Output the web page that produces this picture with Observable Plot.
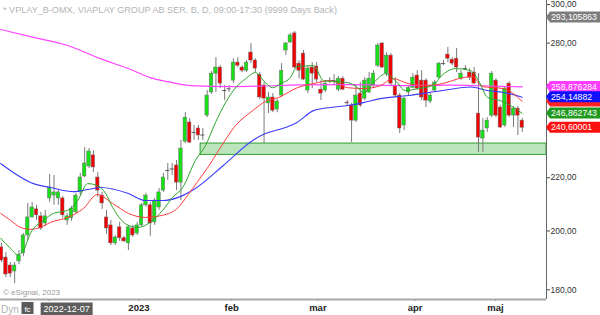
<!DOCTYPE html>
<html><head><meta charset="utf-8">
<script src="https://cdn.jsdelivr.net/npm/d3@7"></script>
<script src="https://cdn.jsdelivr.net/npm/@observablehq/plot@0.6"></script>
<style>body{margin:0;background:#fff;} svg{display:block}</style>
</head><body><div id="chart"></div>
<script>
// ---- Data (daily bars, index 0 = first visible bar, mid Nov 2022) ----
const open = [
194.2,190.7,188.0,186.0,189.4,192.1,198.4,204.9,207.9,205.3,
202.7,212.0,213.1,212.0,212.0,203.8,204.6,206.8,214.3,220.5,
224.5,229.0,220.1,213.1,204.9,202.0,195.6,201.3,197.4,195.6,
200.9,199.1,202.0,209.4,209.4,203.1,208.6,215.0,222.9,223.5,
224.9,218.1,234.7,242.9,238.6,240.3,237.5,245.9,256.3,265.1,
268.0,257.2,258.0,261.8,270.4,268.0,266.5,275.3,271.4,264.6,
259.5,251.3,254.0,248.6,254.9,276.3,280.3,284.9,269.9,274.8,
257.2,268.0,268.5,257.6,257.2,261.8,261.8,257.6,262.7,251.7,
250.4,243.7,255.8,253.5,256.3,259.5,268.9,279.8,265.1,273.8,
259.5,254.9,241.6,256.3,258.5,264.2,261.8,261.8,252.2,257.2,
263.2,269.9,274.3,271.8,272.3,262.7,267.5,265.6,265.6,246.8,
236.0,240.3,245.9,261.8,249.5,241.6,260.4,245.9,249.0,243.7];
const high = [
195.6,192.4,189.0,189.0,193.1,199.1,210.1,210.5,209.4,206.8,
207.5,221.3,220.9,215.0,212.7,206.4,209.0,213.9,221.7,232.2,
231.8,231.0,222.1,214.3,207.5,203.8,198.4,203.1,198.1,202.0,
202.0,203.1,210.1,213.9,210.5,212.0,215.8,221.7,225.7,225.7,
226.9,235.2,247.2,244.6,241.6,241.6,240.3,257.2,266.1,272.8,
268.9,259.5,259.5,272.3,272.8,268.9,271.4,279.8,272.3,265.6,
260.9,256.3,255.8,253.1,269.9,280.3,284.9,285.9,271.4,276.3,
268.5,270.4,270.4,261.8,261.8,263.2,264.6,263.7,263.7,252.6,
251.3,259.5,260.9,263.2,265.6,266.5,279.8,280.3,275.3,274.8,
263.2,255.8,254.0,259.5,265.1,266.5,266.5,262.7,255.8,261.8,
270.4,271.4,277.8,272.8,277.3,266.5,268.9,267.5,268.0,265.1,
244.6,245.0,266.1,262.7,250.4,259.0,261.3,249.9,249.9,244.6];
const low = [
189.0,184.0,184.0,182.0,188.3,191.0,196.6,204.6,203.8,200.2,
201.6,210.5,209.4,209.4,204.6,202.0,203.5,206.0,213.1,220.1,
223.7,222.1,212.4,207.9,198.8,194.9,194.9,196.3,195.9,193.1,
197.7,198.4,201.6,208.6,198.1,202.0,207.5,214.3,218.9,220.9,
215.0,211.2,233.9,233.9,235.2,235.2,235.2,245.0,255.4,256.3,
258.1,252.6,256.3,260.4,268.0,265.6,265.6,269.9,265.6,253.1,
233.9,246.8,247.2,247.2,254.0,273.8,279.8,267.5,262.7,261.8,
255.8,258.1,260.9,252.6,256.3,260.4,259.9,256.7,257.2,250.4,
234.3,242.9,249.5,252.6,255.8,258.1,268.0,267.5,263.7,259.5,
254.0,238.1,239.4,254.9,258.1,257.2,252.6,249.5,251.3,256.3,
262.7,268.9,270.4,268.9,265.6,261.8,266.5,261.8,259.9,230.2,
230.2,238.6,245.0,245.0,240.3,240.7,245.0,240.7,237.3,238.6];
const close = [
189.7,185.0,185.3,188.0,191.4,198.4,204.9,208.6,205.7,200.9,
205.3,216.2,214.3,214.3,205.7,205.3,208.2,213.1,220.1,225.7,
230.6,224.1,215.0,210.1,200.9,195.6,197.7,197.4,196.3,201.3,
198.4,202.0,209.4,213.1,202.7,211.2,214.3,220.1,222.9,223.5,
218.1,231.8,245.0,234.3,238.6,237.3,237.5,254.9,265.1,268.0,
260.4,257.2,258.0,270.4,268.9,266.5,270.4,271.4,267.5,254.0,
253.5,254.0,248.1,252.2,266.5,279.8,283.9,268.0,266.5,262.3,
267.5,265.1,262.3,255.8,260.4,261.8,261.8,262.7,257.6,251.3,
243.7,254.9,250.4,261.8,262.7,265.1,278.8,268.0,273.8,260.4,
254.9,240.3,253.5,258.5,263.2,258.1,254.0,252.6,254.9,260.9,
269.9,269.9,272.3,269.9,268.0,265.1,267.5,263.2,260.4,236.4,
239.4,243.7,265.1,245.9,240.7,258.1,245.9,249.0,245.9,240.6];

// Moving averages (bar index, value)
const greenK = [-0.2,2.1,3.7,5.0,6.6,9.6,11.9,15.1,17.4,19.7,21.9,23.8,25.4,29.0,31.3,34.5,36.8,39.1,41.4,44.3,46.6,48.9,51.2,53.5,55.8,58.0,60.3,61.9,63.8,66.0,67.6,71.3,73.6,79.1,81.4,82.7,85.5,87.8,90.0,92.3,95.3,98.5,100.8,103.8,107.2,109.0,111.1,114.0,116.3,119];
const greenV = [197.4,193.8,191.7,193.1,199.1,203.8,206.4,207.5,211.2,217.7,216.9,213.9,208.6,202.0,201.3,203.8,207.5,212.4,216.2,226.9,233.0,242.9,251.7,258.5,262.7,265.6,260.9,258.5,260.4,263.2,268.5,268.9,261.8,260.9,258.5,256.3,261.8,265.1,261.8,257.2,258.1,259.5,264.6,267.5,266.5,261.8,254.0,252.6,250.4,246.86];
const redK = [-0.2,2.1,4.3,6.6,8.9,11.2,15.1,18.7,21.9,25.4,29.0,32.9,36.8,40.4,42.5,44.8,47.3,49.6,53.5,57.4,60.3,63.3,67.6,71.3,75.2,79.1,82.7,86.6,89.4,93.0,96.9,100.8,104.4,107.6,109.9,114.7,119];
const redV = [206.4,203.8,201.3,200.6,201.3,203.1,204.9,208.2,213.5,210.1,206.4,204.9,205.7,208.6,213.1,218.5,224.5,231.0,241.6,248.1,252.2,254.0,258.5,260.4,261.8,258.5,258.1,259.5,262.7,260.4,259.5,260.4,262.7,263.7,259.0,258.1,252.2];
const blueK = [-0.2,7.3,11.2,16.5,19.7,22.6,29.0,32.9,36.8,40.4,44.3,50.7,57.4,60.3,64.9,67.6,71.3,75.2,79.1,82.7,86.6,93.0,100.8,107.2,111.1,114.7,119];
const blueV = [225.7,217.7,216.2,214.6,215.4,216.2,213.9,211.2,211.2,212.4,215.8,224.9,235.2,238.1,240.7,243.0,248.1,249.5,250.4,251.7,253.5,254.9,257.2,258.8,257.2,256.3,254.15];
const magK = [-0.2,7.3,15.1,22.6,30.2,34.0,37.9,43.2,53.0,60.0,68.3,79.8,91.2,102.6,110.0,119];
const magV = [286.9,282.9,278.8,272.3,266.5,263.2,261.3,259.5,259.0,259.3,259.8,259.9,259.5,259.7,259.4,258.88];

// Support zone
const zoneStartK = [45.5];
const zoneLow = [229.2];
const zoneHigh = [233.9];

// Axis ticks / labels (labels hidden by value tags / cursor box are left blank)
const yTicks = [180, 200, 220, 240, 260, 280, 300];
const yHiddenTicks = [240, 260];
const monthTickK = [10.8, 31.4, 52.6, 72.3, 94.5, 112.9];
const monthLabels = ["", "2023", "feb", "mar", "apr", "maj"];
const cursorK = 15;
const cursorLabel = "2022-12-07";

// Right-edge value tags (the red MA tag sits under the blue one, text hidden)
const tagValues = [293.105863, 258.876284, 252.2, 254.14882, 246.862743, 240.60001];
const tagTexts = ["293,105863", "258,876284", "", "254,14882", "246,862743", "240,60001"];
const tagColors = ["#7d7d7d", "#ff3cff", "#ff2020", "#1010ff", "#1f9a1f", "#ff1010"];

const titleText = "* VPLAY_B-OMX, VIAPLAY GROUP AB SER. B, D, 09:00-17:30 (9999 Days Back)";

// ---- Build ----
const candles = open.map((o, i) => ({k: i, open: o, high: high[i], low: low[i], close: close[i]}));
const bodies = candles.filter(d => d.open !== d.close);
const dojis = candles.filter(d => d.open === d.close);
const series = (K, V) => K.map((k, i) => ({k, v: V[i]}));
const xDomain = [-0.2285, 124.54];
const yDomain = [176.9, 302.2];
const zone = [{k1: zoneStartK[0], k2: xDomain[1], lo: zoneLow[0], hi: zoneHigh[0]}];
const monthMap = new Map(monthTickK.map((k, i) => [k, monthLabels[i]]));
const FONT = "'Liberation Sans', Arial, sans-serif";

const plot = Plot.plot({
  width: 600, height: 315,
  marginLeft: 0, marginRight: 54, marginTop: 0, marginBottom: 16,
  style: {fontFamily: FONT, background: "#fff", color: "#333", overflow: "visible"},
  x: {type: "linear", domain: xDomain},
  y: {type: "log", domain: yDomain},
  marks: [
    Plot.rect(zone, {x1: "k1", x2: "k2", y1: "lo", y2: "hi", fill: "#bde5bd", stroke: "#2f9e2f", strokeWidth: 1}),
    Plot.ruleX(candles, {x: "k", y1: "low", y2: "high", stroke: "#7a7a7a", strokeWidth: 1}),
    Plot.rect(bodies, {x1: d => d.k - 0.4, x2: d => d.k + 0.4, y1: "open", y2: "close",
      fill: d => d.close > d.open ? "#14e014" : "#f20000", stroke: "#707070", strokeWidth: 0.5}),
    Plot.ruleY(dojis, {x1: d => d.k - 0.45, x2: d => d.k + 0.45, y: "open", stroke: "#555", strokeWidth: 1}),
    Plot.line(series(magK, magV), {x: "k", y: "v", stroke: "#ff44ff", strokeWidth: 1.2, curve: "monotone-x"}),
    Plot.line(series(blueK, blueV), {x: "k", y: "v", stroke: "#3c3cff", strokeWidth: 1.1, curve: "monotone-x"}),
    Plot.line(series(redK, redV), {x: "k", y: "v", stroke: "#ff3a3a", strokeWidth: 1, curve: "monotone-x"}),
    Plot.line(series(greenK, greenV), {x: "k", y: "v", stroke: "#2aa52a", strokeWidth: 1, curve: "monotone-x"}),
    Plot.axisY({anchor: "right", ticks: yTicks,
      tickFormat: d => yHiddenTicks.includes(d) ? "" : d.toFixed(2).replace(".", ","),
      tickSize: 3, tickPadding: 1, fontSize: 8.5, stroke: "#444", fill: "#333"}),
    Plot.axisX({ticks: monthTickK, tickFormat: d => monthMap.get(d), tickSize: 2, tickPadding: 3,
      fontSize: 9.5, fontWeight: "bold", stroke: "#888", fill: "#222"}),
    Plot.ruleX([xDomain[1]], {stroke: "#666", strokeWidth: 1}),
    Plot.ruleY([yDomain[0]], {stroke: "#a8a8a8", strokeWidth: 2})
  ]
});

const sx = plot.scale("x"), sy = plot.scale("y");
const svg = d3.select(plot);
const addText = (x, y, size, fill, txt, anchor = "start") =>
  svg.append("text").attr("x", x).attr("y", y).attr("font-size", size).attr("font-family", FONT)
    .attr("text-anchor", anchor).attr("fill", fill).text(txt);

addText(3, 13, 9.1, "#b4b4b4", titleText);
addText(3, 295, 8, "#999", "© eSignal, 2023");

// value tags on the right
const xr = sx.apply(xDomain[1]);
tagValues.forEach((v, i) => {
  const y = sy.apply(v), h = 5.5;
  svg.append("polygon")
    .attr("points", `${xr},${y} ${xr + 4},${y - h} 600,${y - h} 600,${y + h} ${xr + 4},${y + h}`)
    .attr("fill", tagColors[i]);
  if (tagTexts[i]) addText(xr + 5, y + 3.2, 8.7, "#fff", tagTexts[i]);
});

// bottom-left controls and cursor date
addText(1, 313, 10, "#b0b0b0", "Dyn");
svg.append("rect").attr("x", 21.5).attr("y", 302).attr("width", 12).attr("height", 12).attr("fill", "#5a5a5a");
addText(27.5, 311.5, 8, "#fff", "fc", "middle");
const cx = sx.apply(cursorK);
svg.append("rect").attr("x", cx - 26).attr("y", 302.5).attr("width", 52).attr("height", 12.5).attr("fill", "#5e5e5e");
addText(cx, 312.3, 9, "#fff", cursorLabel, "middle");

document.getElementById("chart").appendChild(plot);
</script>
</body></html>
